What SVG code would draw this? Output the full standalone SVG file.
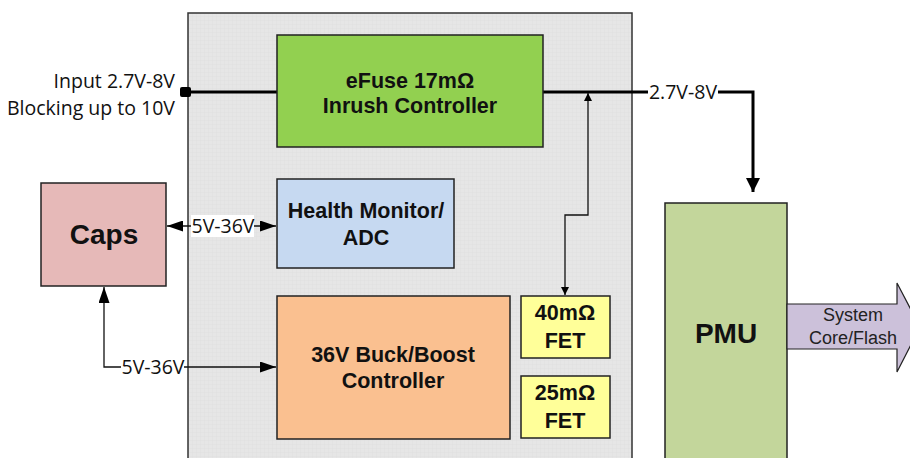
<svg xmlns="http://www.w3.org/2000/svg" width="910" height="458" viewBox="0 0 910 458">
<defs>
<style>
.box{stroke:#222;stroke-width:1.5}
.lbl{font-family:"Liberation Sans",Arial,sans-serif;font-weight:bold;font-size:21.5px;fill:#111;text-anchor:middle}
.big{font-size:28px}
.cl{font-family:"Open Sans","Liberation Sans",sans-serif;font-size:19.5px;fill:#111}
.sys{font-family:"Liberation Sans",Arial,sans-serif;font-size:18px;fill:#222;text-anchor:middle}
.thin{stroke:#111;stroke-width:1.3;fill:none}
.thick{stroke:#000;stroke-width:3;fill:none}
</style>
<pattern id="grid" width="4" height="4" patternUnits="userSpaceOnUse">
<rect width="4" height="4" fill="#e6e6e6"/>
<path d="M0 0H4M0 0V4" stroke="#dcdcdc" stroke-width="0.5"/>
</pattern>
<marker id="ah" viewBox="0 0 10 10" refX="10" refY="5" markerWidth="8" markerHeight="8" markerUnits="userSpaceOnUse" orient="auto-start-reverse">
<path d="M0 0L10 5L0 10z" fill="#000"/>
</marker>
<marker id="ahs" viewBox="0 0 16 11" refX="16" refY="5.5" markerWidth="16" markerHeight="11" markerUnits="userSpaceOnUse" orient="auto-start-reverse">
<path d="M0 0L16 5.5L0 11z" fill="#000"/>
</marker>
<marker id="ahb" viewBox="0 0 10 10" refX="10" refY="5" markerWidth="14" markerHeight="14" markerUnits="userSpaceOnUse" orient="auto">
<path d="M0 0L10 5L0 10z" fill="#000"/>
</marker>
</defs>
<rect width="910" height="458" fill="#fff"/>
<g id="chip"><rect x="188" y="13" width="444" height="460" fill="url(#grid)" stroke="#333" stroke-width="1.5"/></g>
<g id="connectors">
<rect x="180" y="87" width="11" height="10" rx="2" fill="#000"/>
<path class="thick" d="M188 92H277"/>
<path class="thick" d="M543 92H648M718 92H753V192" marker-end="url(#ahb)"/>
<path class="thin" d="M565 295V215H588V93" marker-start="url(#ah)" marker-end="url(#ah)"/>
<path class="thin" d="M167 226H276" marker-start="url(#ahs)" marker-end="url(#ahs)"/>
<rect x="191" y="215" width="63" height="22" fill="#fff"/>
<path class="thin" d="M104 287V367H276" marker-start="url(#ahs)" marker-end="url(#ahs)"/>
<rect x="121" y="357" width="63" height="20" fill="#fff"/>
</g>
<g id="labels">
<text class="cl" x="175" y="88" text-anchor="end">Input 2.7V-8V</text>
<text class="cl" x="175" y="115" text-anchor="end">Blocking up to 10V</text>
<text class="cl" x="683" y="99" text-anchor="middle">2.7V-8V</text>
<text class="cl" x="223" y="233" text-anchor="middle">5V-36V</text>
<text class="cl" x="153" y="374" text-anchor="middle">5V-36V</text>
</g>
<g id="efuse"><rect class="box" x="277" y="35" width="266" height="112" fill="#92d050"/>
<text class="lbl" x="410" y="88">eFuse 17mΩ</text><text class="lbl" x="410" y="113">Inrush Controller</text></g>
<g id="health"><rect class="box" x="277" y="179" width="177" height="89" fill="#c6d9f1"/>
<text class="lbl" x="366" y="218">Health Monitor/</text><text class="lbl" x="366" y="245">ADC</text></g>
<g id="buck"><rect class="box" x="277" y="296" width="233" height="143" fill="#fac090"/>
<text class="lbl" x="393" y="362">36V Buck/Boost</text><text class="lbl" x="393" y="388">Controller</text></g>
<g id="fet40"><rect class="box" x="521" y="296" width="89" height="62" fill="#ffff99"/>
<text class="lbl" x="565" y="320">40mΩ</text><text class="lbl" x="565" y="348">FET</text></g>
<g id="fet25"><rect class="box" x="521" y="376" width="89" height="62" fill="#ffff99"/>
<text class="lbl" x="565" y="400">25mΩ</text><text class="lbl" x="565" y="428">FET</text></g>
<g id="caps"><rect class="box" x="41" y="183" width="125" height="103" fill="#e6b9b8"/>
<text class="lbl big" x="104" y="244">Caps</text></g>
<g id="pmu"><rect class="box" x="665" y="203" width="122" height="270" fill="#c3d69b"/>
<text class="lbl big" x="726" y="343">PMU</text></g>
<g id="system"><path d="M787 304H897V283L920 327L897 372V349H787Z" fill="#ccc1da" stroke="#222" stroke-width="1.2"/>
<text class="sys" x="853" y="321">System</text>
<text class="sys" x="853" y="344">Core/Flash</text></g>
</svg>
